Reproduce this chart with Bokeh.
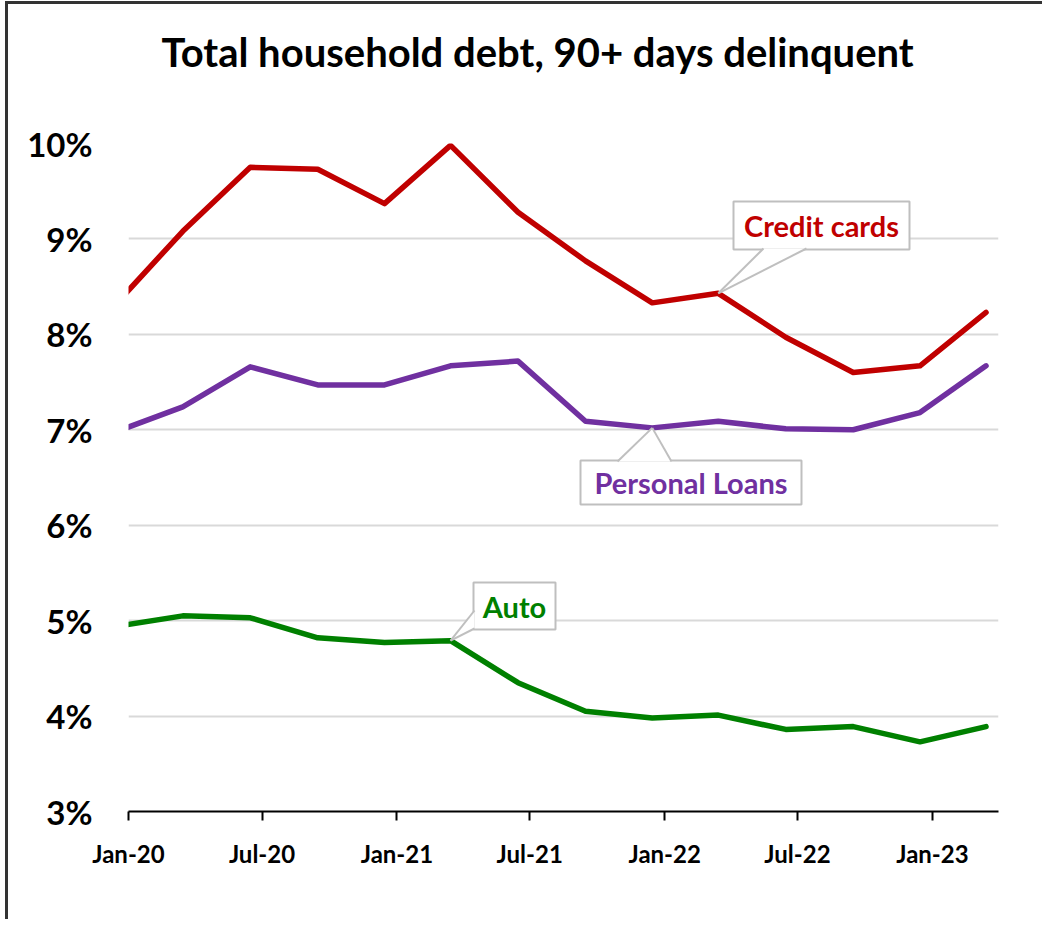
from datetime import datetime, timedelta
from bokeh.plotting import figure
from bokeh.models import Range1d, FixedTicker, DatetimeTickFormatter, PrintfTickFormatter, Title
from bokeh.core.properties import value
from bokeh.embed import file_html
from bokeh.resources import INLINE

# ---- data ----
dates = ["2019-12-15", "2020-03-15", "2020-06-15", "2020-09-15", "2020-12-15",
         "2021-03-15", "2021-06-15", "2021-09-15", "2021-12-15", "2022-03-15",
         "2022-06-15", "2022-09-15", "2022-12-15", "2023-03-15"]
credit_cards = [8.32, 9.08, 9.75, 9.73, 9.37, 9.98, 9.28, 8.77, 8.33, 8.43, 7.97, 7.60, 7.67, 8.23]
personal_loans = [6.98, 7.24, 7.66, 7.47, 7.47, 7.67, 7.72, 7.09, 7.02, 7.09, 7.01, 7.00, 7.18, 7.67]
auto = [4.94, 5.05, 5.03, 4.82, 4.77, 4.79, 4.35, 4.05, 3.98, 4.01, 3.86, 3.89, 3.73, 3.89]
x_tick_dates = ["2020-01-01", "2020-07-01", "2021-01-01", "2021-07-01",
                "2022-01-01", "2022-07-01", "2023-01-01"]
y_ticks = [3, 4, 5, 6, 7, 8, 9, 10]

x = [datetime.fromisoformat(d) for d in dates]
X0 = datetime(2020, 1, 1)
X1 = datetime(2023, 4, 1)
EPOCH = datetime(1970, 1, 1)


def ms(d):
    return (d - EPOCH).total_seconds() * 1000.0


FONT = value("Lato")
RED = "#C00000"
PURPLE = "#7030A0"
GREEN = "#008000"

p = figure(width=1037, height=918, x_axis_type="datetime",
           x_range=Range1d(X0, X1), y_range=Range1d(3, 10),
           output_backend="svg", toolbar_location=None,
           min_border_left=120, min_border_right=47,
           min_border_top=139, min_border_bottom=111)
p.outline_line_color = None
p.background_fill_color = "white"
p.border_fill_color = "white"

# axes
p.xaxis.ticker = FixedTicker(ticks=[ms(datetime.fromisoformat(d)) for d in x_tick_dates])
p.xaxis.formatter = DatetimeTickFormatter(days="%b-%y", months="%b-%y", years="%b-%y")
p.xaxis.axis_line_color = "black"
p.xaxis.axis_line_width = 2
p.xaxis.major_tick_line_color = "black"
p.xaxis.major_tick_line_width = 2
p.xaxis.major_tick_out = 9
p.xaxis.major_tick_in = 0
p.xaxis.minor_tick_line_color = None
p.xaxis.major_label_standoff = 18
p.xaxis.major_label_text_font = "Lato"
p.xaxis.major_label_text_font_style = "bold"
p.xaxis.major_label_text_font_size = "24px"
p.xaxis.major_label_text_color = "black"

p.yaxis.ticker = FixedTicker(ticks=y_ticks)
p.yaxis.formatter = PrintfTickFormatter(format="%d%%")
p.yaxis.axis_line_color = None
p.yaxis.major_tick_line_color = None
p.yaxis.minor_tick_line_color = None
p.yaxis.major_label_standoff = 30
p.yaxis.major_label_text_font = "Lato"
p.yaxis.major_label_text_font_style = "bold"
p.yaxis.major_label_text_font_size = "33px"
p.yaxis.major_label_text_color = "black"

p.xgrid.grid_line_color = None
p.ygrid.ticker = FixedTicker(ticks=y_ticks)
p.ygrid.grid_line_color = "#D9D9D9"
p.ygrid.grid_line_width = 2

# series
for ys, c in [(credit_cards, RED), (personal_loans, PURPLE), (auto, GREEN)]:
    p.line(x, ys, line_color=c, line_width=5.5, line_join="round", line_cap="round")

# ---- pixel helpers for annotations (page px -> data) ----
PX_LEFT, PX_RIGHT = 128, 998
PY_TOP, PY_BOT = 143, 811
days_span = (X1 - X0).days


def xd(px):
    return X0 + timedelta(days=(px - PX_LEFT) * days_span / (PX_RIGHT - PX_LEFT))


def yd(py):
    return 10 - (py - PY_TOP) * 7.0 / (PY_BOT - PY_TOP)


def callout(box, base, tip_idx, series, text, color):
    l, t, r, b = box
    p.quad(left=[xd(l)], right=[xd(r)], top=[yd(t)], bottom=[yd(b)],
           fill_color="white", line_color="#BFBFBF", line_width=2)
    tipx, tipy = x[tip_idx], series[tip_idx]
    (ax, ay), (bx, by) = base
    p.patch([xd(ax), xd(bx), tipx], [yd(ay), yd(by), tipy],
            fill_color="white", line_color=None)
    p.segment(x0=[xd(ax), xd(bx)], y0=[yd(ay), yd(by)], x1=[tipx, tipx], y1=[tipy, tipy],
              line_color="#BFBFBF", line_width=2)
    p.text(x=[xd((l + r) / 2)], y=[yd((t + b) / 2)], text=[text], text_font=FONT,
           text_font_style="bold", text_font_size="29px", text_color=color,
           text_align="center", text_baseline="middle")


callout((733, 201, 909, 249), ((763, 248), (806, 248)), 9, credit_cards, "Credit cards", RED)
callout((580, 460, 801, 504), ((617, 461), (671, 461)), 8, personal_loans, "Personal Loans", PURPLE)
callout((473, 582, 555, 629), ((474, 610), (474, 628)), 5, auto, "Auto", GREEN)

# spacer between frame and title, then the title itself
p.add_layout(Title(text=" ", standoff=64, text_font_size="2px", text_color="white"), "above")
p.add_layout(Title(text="Total household debt, 90+ days delinquent", align="left",
                   offset=33, standoff=0, text_font="Lato", text_font_style="bold",
                   text_font_size="40px", text_color="black"), "above")

p.styles = {"border-left": "3px solid #333", "border-top": "3px solid #333",
            "margin-left": "5px", "margin-top": "1px"}

open("out.html", "w").write(file_html(p, INLINE))
